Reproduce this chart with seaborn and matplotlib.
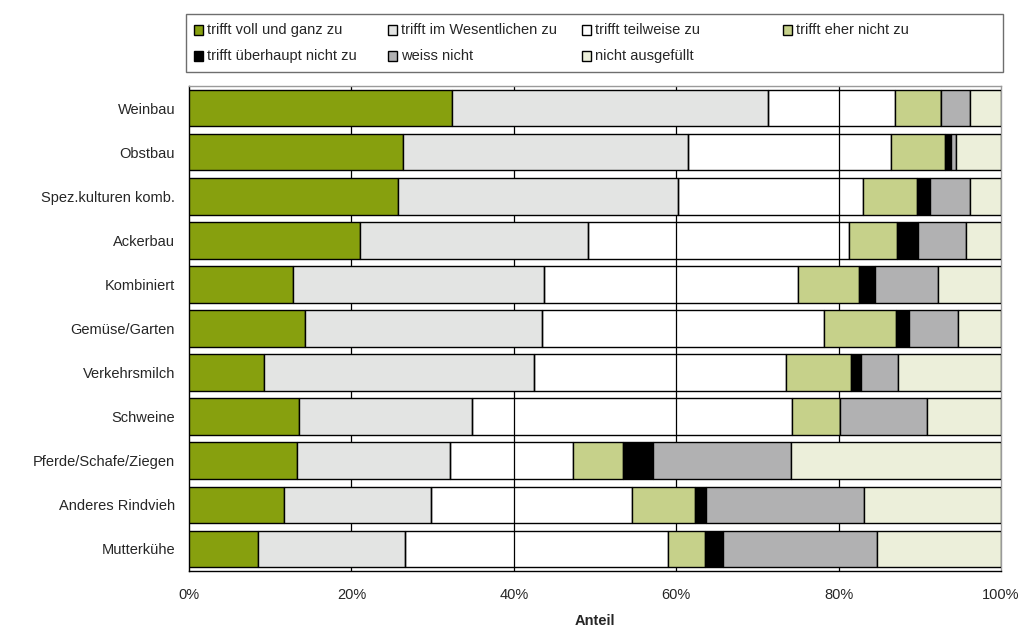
import numpy as np
import pandas as pd
import matplotlib
matplotlib.use("Agg")
import matplotlib.pyplot as plt
from matplotlib.patches import Rectangle
import seaborn as sns

# Betriebstypen (von oben nach unten)
categories = ["Weinbau", "Obstbau", "Spez.kulturen komb.", "Ackerbau", "Kombiniert",
              "Gemüse/Garten", "Verkehrsmilch", "Schweine", "Pferde/Schafe/Ziegen",
              "Anderes Rindvieh", "Mutterkühe"]

# Anteile in Prozent je Antwortkategorie
voll = [32.4, 26.4, 25.7, 21.1, 12.8, 14.3, 9.2, 13.6, 13.3, 11.7, 8.5]
wesentlich = [38.9, 35.0, 34.5, 28.0, 30.9, 29.2, 33.3, 21.2, 18.8, 18.1, 18.1]
teilweise = [15.7, 25.1, 22.8, 32.2, 31.3, 34.7, 31.0, 39.4, 15.2, 24.7, 32.4]
eher_nicht = [5.6, 6.6, 6.6, 5.9, 7.5, 8.9, 8.0, 6.0, 6.2, 7.8, 4.6]
ueberhaupt_nicht = [0.0, 0.8, 1.6, 2.6, 2.0, 1.6, 1.3, 0.0, 3.7, 1.4, 2.2]
weiss_nicht = [3.6, 0.6, 5.0, 5.9, 7.8, 6.0, 4.5, 10.7, 16.9, 19.4, 18.9]
nicht_ausgefuellt = [3.8, 5.5, 3.8, 4.3, 7.7, 5.3, 12.7, 9.1, 25.9, 16.9, 15.3]

series_names = ["trifft voll und ganz zu", "trifft im Wesentlichen zu", "trifft teilweise zu",
                "trifft eher nicht zu", "trifft überhaupt nicht zu", "weiss nicht",
                "nicht ausgefüllt"]
series_values = [voll, wesentlich, teilweise, eher_nicht, ueberhaupt_nicht,
                 weiss_nicht, nicht_ausgefuellt]
series_colors = ["#87A00E", "#E3E4E3", "#FFFFFF", "#C6D18A", "#000000", "#B1B1B2", "#ECEFDA"]

x_ticks = [0, 20, 40, 60, 80, 100]
x_ticklabels = ["0%", "20%", "40%", "60%", "80%", "100%"]

sns.set_style("white")
plt.rcParams["font.family"] = ["Liberation Sans", "DejaVu Sans"]
plt.rcParams["font.size"] = 10.5

W, H = 1036, 628
fig = plt.figure(figsize=(W / 100, H / 100), dpi=100)
ax = fig.add_axes([189 / W, 1 - 571 / H, (1001 - 189) / W, (571 - 86) / H])


def fx(px):
    return px / W


def fy(py):
    return 1 - py / H


# vertical grid lines behind the bars
for t in x_ticks[1:-1]:
    ax.axvline(t, color="black", lw=0.9, zorder=0)

left = np.zeros(len(categories))
for name, vals, col in zip(series_names, series_values, series_colors):
    df = pd.DataFrame({"Kategorie": categories, "Anteil": vals})
    n0 = len(ax.patches)
    sns.barplot(data=df, x="Anteil", y="Kategorie", order=categories, orient="h",
                color=col, saturation=1, width=0.83, edgecolor="black",
                linewidth=1.0, ax=ax, zorder=3)
    for patch, l in zip(ax.patches[n0:], left):
        patch.set_x(l)
        if col == "#FFFFFF":
            patch.set_facecolor("none")
    left += np.array(vals)

ax.set_xlim(0, 100)
ax.set_ylim(len(categories) - 0.5, -0.5)
ax.set_xticks(x_ticks)
ax.set_xticklabels(x_ticklabels, fontsize=10.5)
ax.set_yticks(range(len(categories)))
ax.set_yticklabels(categories, fontsize=10.5)
ax.set_yticks(np.arange(len(categories) + 1) - 0.5, minor=True)
ax.tick_params(axis="y", which="major", length=0, pad=10)
ax.tick_params(axis="y", which="minor", length=4, width=1, color="black", direction="out")
ax.tick_params(axis="x", which="major", length=4, width=1, color="black", direction="out", pad=8)
ax.set_ylabel("")
ax.set_xlabel("Anteil", fontweight="bold", fontsize=10.5, labelpad=9)

for side in ["left", "bottom"]:
    ax.spines[side].set_color("black")
    ax.spines[side].set_linewidth(1.0)
for side in ["top", "right"]:
    ax.spines[side].set_visible(True)
    ax.spines[side].set_color("#9a9a9a")
    ax.spines[side].set_linewidth(1.0)

# legend box with fixed-width columns
fig.add_artist(Rectangle((fx(186), fy(72)), fx(1003) - fx(186), fy(14) - fy(72),
                         transform=fig.transFigure, facecolor="white",
                         edgecolor="#6e6e6e", lw=1.0))
col_x = [194, 388, 582, 783]
row_y = [30, 56]
slots = [(0, 0), (0, 1), (0, 2), (0, 3), (1, 0), (1, 1), (1, 2)]
for (r, c), name, col in zip(slots, series_names, series_colors):
    x0, yc = col_x[c], row_y[r]
    fig.add_artist(Rectangle((fx(x0), fy(yc + 4.5)), fx(9), 9 / H,
                             transform=fig.transFigure, facecolor=col,
                             edgecolor="black", lw=1.0))
    fig.text(fx(x0 + 13), fy(yc), name, fontsize=10.5, va="center", ha="left")

fig.savefig("out.png", dpi=100, facecolor="white")
